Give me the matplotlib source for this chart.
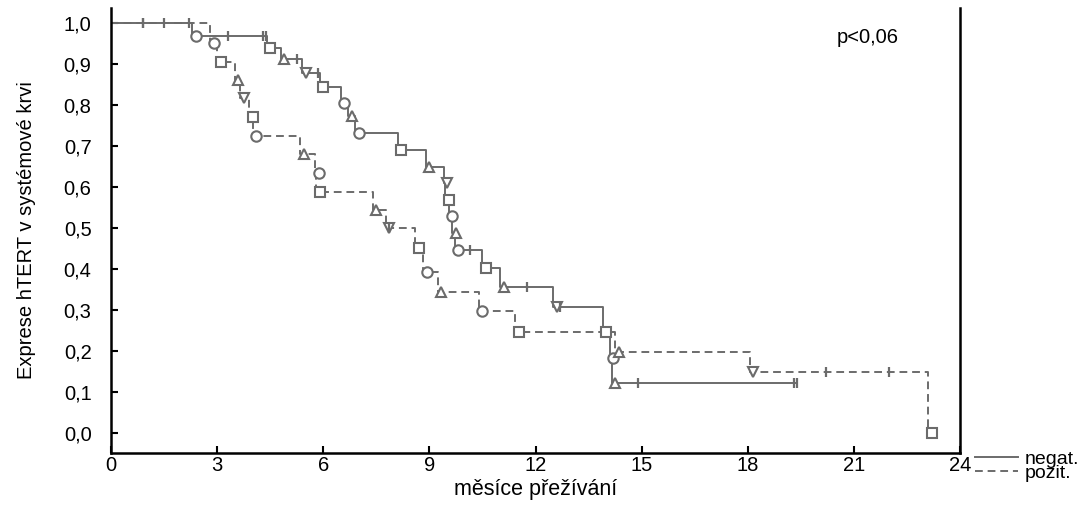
import numpy as np
import matplotlib
matplotlib.use('Agg')
import matplotlib.pyplot as plt
from matplotlib.lines import Line2D

plt.rcParams['font.family'] = ['Liberation Sans', 'DejaVu Sans']

# survival steps (months, survival after the event)
neg_times = [2.3, 4.4, 4.8, 5.4, 5.9, 6.5, 6.7, 6.9, 8.1, 8.9, 9.4, 9.45, 9.55, 9.65, 9.72,
             10.5, 11.0, 12.5, 13.9, 14.1, 14.15]
neg_surv = [0.968, 0.94, 0.912, 0.878, 0.844, 0.805, 0.773, 0.732, 0.69, 0.649, 0.61, 0.568,
            0.529, 0.488, 0.446, 0.402, 0.356, 0.307, 0.246, 0.183, 0.122]
neg_censored = [0.9, 1.5, 3.3, 4.3, 4.38, 5.25, 5.85, 10.15, 11.75, 12.7, 14.9, 19.3, 19.38]
neg_end = 19.38

pos_times = [2.8, 3.0, 3.5, 3.65, 3.9, 4.0, 5.35, 5.77, 5.8, 7.4, 7.77, 8.6, 8.82, 9.24,
             10.4, 11.42, 14.25, 18.06, 23.1]
pos_surv = [0.951, 0.905, 0.861, 0.817, 0.771, 0.724, 0.68, 0.634, 0.588, 0.544, 0.5, 0.451,
            0.393, 0.344, 0.298, 0.246, 0.198, 0.149, 0.0]
pos_censored = [0.9, 2.2, 7.85, 20.2, 22.0]
pos_end = 23.1

x_ticks = [0, 3, 6, 9, 12, 15, 18, 21, 24]
y_ticks = [0.0, 0.1, 0.2, 0.3, 0.4, 0.5, 0.6, 0.7, 0.8, 0.9, 1.0]

gray = '#6b6b6b'
shapes = ['o', 's', '^', 'v', 's', 'o', '^']


def level_at(times, surv, t):
    i = np.searchsorted(times, t, side='right')
    return 1.0 if i == 0 else surv[i - 1]


def draw_curve(ax, times, surv, censored, end, ls):
    xs = [0] + list(times) + [end]
    ys = [1.0] + list(surv) + [surv[-1]]
    ax.step(xs, ys, where='post', color=gray, lw=1.4, ls=ls, zorder=2)
    for k, (t, s) in enumerate(zip(times, surv)):
        ax.plot(t + 0.1, s, marker=shapes[k % len(shapes)], ms=7.5, mfc='white',
                mec=gray, mew=1.5, ls='none', zorder=3)
    cy = [level_at(times, surv, t) for t in censored]
    ax.plot(censored, cy, marker='|', ms=7, mew=1.6, color=gray, ls='none', zorder=3)


fig = plt.figure(figsize=(10.86, 5.05), dpi=100)
ax = fig.add_axes([111 / 1086, 52 / 505, (960 - 111) / 1086, (453 - 8) / 505])

draw_curve(ax, neg_times, neg_surv, neg_censored, neg_end, '-')
draw_curve(ax, pos_times, pos_surv, pos_censored, pos_end, (0, (4, 2.5)))

ax.set_xlim(0, 24)
ax.set_ylim((433 - 453) / 410, (433 - 8) / 410)
ax.set_xticks(x_ticks)
ax.set_xticklabels([str(v) for v in x_ticks])
ax.set_yticks(y_ticks)
ax.set_yticklabels([f'{v:.1f}'.replace('.', ',') for v in y_ticks])
ax.tick_params(direction='in', length=5, width=1.5, labelsize=14.5, colors='black')
ax.tick_params(axis='y', pad=14)
ax.tick_params(axis='x', pad=2)
ax.spines['top'].set_visible(False)
for s in ['left', 'bottom', 'right']:
    ax.spines[s].set_linewidth(1.8)

ax.set_xlabel('měsíce přežívání', fontsize=15.5, labelpad=3)
ax.set_ylabel('Exprese hTERT v systémové krvi', fontsize=14.5, labelpad=20)
ax.text(21.4, 0.965, 'p<0,06', fontsize=14.5, ha='center', va='center')

handles = [Line2D([], [], color=gray, lw=1.4, ls='-'),
           Line2D([], [], color=gray, lw=1.4, ls=(0, (4, 2.5)))]
fig.legend(handles, ['negat.', 'pozit.'], loc='center left', bbox_to_anchor=(0.898, 0.077),
           frameon=False, fontsize=14, handlelength=2.2, handletextpad=0.35,
           labelspacing=-0.15, borderpad=0, borderaxespad=0)

fig.savefig('out.png', dpi=100)
